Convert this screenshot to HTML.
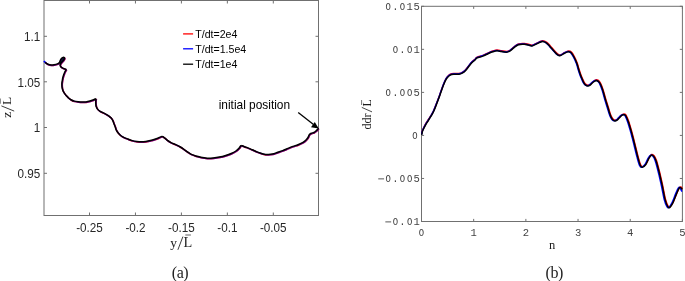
<!DOCTYPE html>
<html><head><meta charset="utf-8"><style>
html,body{margin:0;padding:0;background:#fff;width:685px;height:281px;overflow:hidden;}
svg{display:block;will-change:transform;}
</style></head><body>
<svg width="685" height="281" viewBox="0 0 685 281">
<rect x="44.0" y="0.5" width="274.50" height="215.00" fill="none" stroke="#707070" stroke-width="1"/>
<line x1="89.50" y1="215.5" x2="89.50" y2="212.5" stroke="#707070" stroke-width="1"/>
<line x1="89.50" y1="0.5" x2="89.50" y2="3.5" stroke="#707070" stroke-width="1"/>
<line x1="135.45" y1="215.5" x2="135.45" y2="212.5" stroke="#707070" stroke-width="1"/>
<line x1="135.45" y1="0.5" x2="135.45" y2="3.5" stroke="#707070" stroke-width="1"/>
<line x1="181.40" y1="215.5" x2="181.40" y2="212.5" stroke="#707070" stroke-width="1"/>
<line x1="181.40" y1="0.5" x2="181.40" y2="3.5" stroke="#707070" stroke-width="1"/>
<line x1="227.35" y1="215.5" x2="227.35" y2="212.5" stroke="#707070" stroke-width="1"/>
<line x1="227.35" y1="0.5" x2="227.35" y2="3.5" stroke="#707070" stroke-width="1"/>
<line x1="273.30" y1="215.5" x2="273.30" y2="212.5" stroke="#707070" stroke-width="1"/>
<line x1="273.30" y1="0.5" x2="273.30" y2="3.5" stroke="#707070" stroke-width="1"/>
<line x1="44.0" y1="36.30" x2="47.0" y2="36.30" stroke="#707070" stroke-width="1"/>
<line x1="318.5" y1="36.30" x2="315.5" y2="36.30" stroke="#707070" stroke-width="1"/>
<line x1="44.0" y1="81.80" x2="47.0" y2="81.80" stroke="#707070" stroke-width="1"/>
<line x1="318.5" y1="81.80" x2="315.5" y2="81.80" stroke="#707070" stroke-width="1"/>
<line x1="44.0" y1="127.50" x2="47.0" y2="127.50" stroke="#707070" stroke-width="1"/>
<line x1="318.5" y1="127.50" x2="315.5" y2="127.50" stroke="#707070" stroke-width="1"/>
<line x1="44.0" y1="173.30" x2="47.0" y2="173.30" stroke="#707070" stroke-width="1"/>
<line x1="318.5" y1="173.30" x2="315.5" y2="173.30" stroke="#707070" stroke-width="1"/>
<rect x="421.5" y="6.3" width="260.90" height="215.20" fill="none" stroke="#707070" stroke-width="1"/>
<line x1="421.50" y1="221.5" x2="421.50" y2="218.9" stroke="#707070" stroke-width="1"/>
<line x1="421.50" y1="6.3" x2="421.50" y2="8.9" stroke="#707070" stroke-width="1"/>
<line x1="473.68" y1="221.5" x2="473.68" y2="218.9" stroke="#707070" stroke-width="1"/>
<line x1="473.68" y1="6.3" x2="473.68" y2="8.9" stroke="#707070" stroke-width="1"/>
<line x1="525.86" y1="221.5" x2="525.86" y2="218.9" stroke="#707070" stroke-width="1"/>
<line x1="525.86" y1="6.3" x2="525.86" y2="8.9" stroke="#707070" stroke-width="1"/>
<line x1="578.04" y1="221.5" x2="578.04" y2="218.9" stroke="#707070" stroke-width="1"/>
<line x1="578.04" y1="6.3" x2="578.04" y2="8.9" stroke="#707070" stroke-width="1"/>
<line x1="630.22" y1="221.5" x2="630.22" y2="218.9" stroke="#707070" stroke-width="1"/>
<line x1="630.22" y1="6.3" x2="630.22" y2="8.9" stroke="#707070" stroke-width="1"/>
<line x1="682.40" y1="221.5" x2="682.40" y2="218.9" stroke="#707070" stroke-width="1"/>
<line x1="682.40" y1="6.3" x2="682.40" y2="8.9" stroke="#707070" stroke-width="1"/>
<line x1="421.5" y1="6.30" x2="424.1" y2="6.30" stroke="#707070" stroke-width="1"/>
<line x1="682.4" y1="6.30" x2="679.8" y2="6.30" stroke="#707070" stroke-width="1"/>
<line x1="421.5" y1="49.34" x2="424.1" y2="49.34" stroke="#707070" stroke-width="1"/>
<line x1="682.4" y1="49.34" x2="679.8" y2="49.34" stroke="#707070" stroke-width="1"/>
<line x1="421.5" y1="92.38" x2="424.1" y2="92.38" stroke="#707070" stroke-width="1"/>
<line x1="682.4" y1="92.38" x2="679.8" y2="92.38" stroke="#707070" stroke-width="1"/>
<line x1="421.5" y1="135.42" x2="424.1" y2="135.42" stroke="#707070" stroke-width="1"/>
<line x1="682.4" y1="135.42" x2="679.8" y2="135.42" stroke="#707070" stroke-width="1"/>
<line x1="421.5" y1="178.46" x2="424.1" y2="178.46" stroke="#707070" stroke-width="1"/>
<line x1="682.4" y1="178.46" x2="679.8" y2="178.46" stroke="#707070" stroke-width="1"/>
<line x1="421.5" y1="221.50" x2="424.1" y2="221.50" stroke="#707070" stroke-width="1"/>
<line x1="682.4" y1="221.50" x2="679.8" y2="221.50" stroke="#707070" stroke-width="1"/>
<path d="M45.45 62.90 C45.70 63.07 46.45 63.58 46.95 63.90 C47.45 64.22 47.70 64.53 48.45 64.80 C49.20 65.07 50.45 65.42 51.45 65.50 C52.45 65.58 53.38 65.48 54.45 65.30 C55.52 65.12 56.95 64.78 57.85 64.40 C58.75 64.02 59.37 63.58 59.85 63.00 C60.33 62.42 60.42 61.57 60.75 60.90 C61.08 60.23 61.38 59.50 61.85 59.00 C62.32 58.50 63.08 58.05 63.55 57.90 C64.02 57.75 64.43 57.88 64.65 58.10 C64.87 58.32 64.98 58.75 64.85 59.20 C64.72 59.65 64.25 60.27 63.85 60.80 C63.45 61.33 62.92 61.85 62.45 62.40 C61.98 62.95 61.37 63.55 61.05 64.10 C60.73 64.65 60.52 65.17 60.55 65.70 C60.58 66.23 60.80 66.82 61.25 67.30 C61.70 67.78 62.55 68.25 63.25 68.60 C63.95 68.95 64.87 69.18 65.45 69.40 C66.03 69.62 66.53 69.82 66.75 69.90 M66.75 69.90 C66.50 70.33 65.68 71.60 65.25 72.50 C64.82 73.40 64.48 74.35 64.15 75.30 C63.82 76.25 63.48 77.25 63.25 78.20 C63.02 79.15 62.90 80.05 62.75 81.00 C62.60 81.95 62.40 82.85 62.35 83.90 C62.30 84.95 62.33 86.25 62.45 87.30 C62.57 88.35 62.77 89.30 63.05 90.20 C63.33 91.10 63.72 91.92 64.15 92.70 C64.58 93.48 65.17 94.28 65.65 94.90 C66.13 95.52 66.48 95.80 67.05 96.40 C67.62 97.00 68.25 97.82 69.05 98.50 C69.85 99.18 70.92 99.98 71.85 100.50 C72.78 101.02 73.52 101.30 74.65 101.60 C75.78 101.90 77.35 102.13 78.65 102.30 C79.95 102.47 81.15 102.58 82.45 102.60 C83.75 102.62 85.12 102.58 86.45 102.40 C87.78 102.22 89.28 101.82 90.45 101.50 C91.62 101.18 92.58 100.83 93.45 100.50 C94.32 100.17 95.15 99.72 95.65 99.50 C96.15 99.28 96.32 99.25 96.45 99.20 M96.45 99.20 C96.40 99.67 96.18 101.12 96.15 102.00 C96.12 102.88 96.17 103.65 96.25 104.50 C96.33 105.35 96.37 106.25 96.65 107.10 C96.93 107.95 97.35 108.85 97.95 109.60 C98.55 110.35 99.33 111.00 100.25 111.60 C101.17 112.20 102.38 112.67 103.45 113.20 C104.52 113.73 105.70 114.27 106.65 114.80 C107.60 115.33 108.35 115.82 109.15 116.40 C109.95 116.98 110.78 117.55 111.45 118.30 C112.12 119.05 112.67 119.95 113.15 120.90 C113.63 121.85 113.95 122.97 114.35 124.00 C114.75 125.03 115.17 126.05 115.55 127.10 C115.93 128.15 116.13 129.25 116.65 130.30 C117.17 131.35 117.80 132.37 118.65 133.40 C119.50 134.43 120.73 135.72 121.75 136.50 C122.77 137.28 123.65 137.60 124.75 138.10 C125.85 138.60 127.02 139.00 128.35 139.50 C129.68 140.00 131.27 140.70 132.75 141.10 C134.23 141.50 135.75 141.72 137.25 141.90 C138.75 142.08 140.25 142.20 141.75 142.20 C143.25 142.20 144.75 142.08 146.25 141.90 C147.75 141.72 149.25 141.45 150.75 141.10 C152.25 140.75 153.85 140.27 155.25 139.80 C156.65 139.33 157.97 138.78 159.15 138.30 C160.33 137.82 161.72 137.15 162.35 136.90 C162.98 136.65 162.85 136.82 162.95 136.80 M162.95 136.80 C163.28 137.05 164.18 137.67 164.95 138.30 C165.72 138.93 166.47 139.80 167.55 140.60 C168.63 141.40 170.02 142.35 171.45 143.10 C172.88 143.85 174.58 144.37 176.15 145.10 C177.72 145.83 179.42 146.65 180.85 147.50 C182.28 148.35 183.57 149.37 184.75 150.20 C185.93 151.03 186.77 151.72 187.95 152.50 C189.13 153.28 190.42 154.23 191.85 154.90 C193.28 155.57 195.00 156.02 196.55 156.50 C198.10 156.98 199.33 157.43 201.15 157.80 C202.97 158.17 205.37 158.58 207.45 158.70 C209.53 158.82 211.57 158.68 213.65 158.50 C215.73 158.32 217.87 158.02 219.95 157.60 C222.03 157.18 224.20 156.60 226.15 156.00 C228.10 155.40 229.95 154.75 231.65 154.00 C233.35 153.25 235.05 152.38 236.35 151.50 C237.65 150.62 238.67 149.53 239.45 148.70 C240.23 147.87 240.65 146.95 241.05 146.50 C241.45 146.05 241.72 146.08 241.85 146.00 M241.85 146.00 C242.37 146.20 244.07 146.88 244.95 147.20 C245.83 147.52 245.87 147.38 247.15 147.90 C248.43 148.42 250.83 149.52 252.65 150.30 C254.47 151.08 256.23 151.92 258.05 152.60 C259.87 153.28 261.85 154.00 263.55 154.40 C265.25 154.80 266.68 154.97 268.25 155.00 C269.82 155.03 271.38 154.93 272.95 154.60 C274.52 154.27 275.95 153.58 277.65 153.00 C279.35 152.42 281.35 151.78 283.15 151.10 C284.95 150.42 286.73 149.60 288.45 148.90 C290.17 148.20 291.78 147.52 293.45 146.90 C295.12 146.28 296.78 145.87 298.45 145.20 C300.12 144.53 302.12 143.68 303.45 142.90 C304.78 142.12 305.62 141.32 306.45 140.50 C307.28 139.68 307.88 138.92 308.45 138.00 C309.02 137.08 309.28 135.72 309.85 135.00 C310.42 134.28 311.10 134.03 311.85 133.70 C312.60 133.37 313.60 133.37 314.35 133.00 C315.10 132.63 315.68 132.08 316.35 131.50 C317.02 130.92 317.93 129.97 318.35 129.50 C318.77 129.03 318.77 128.83 318.85 128.70" fill="none" stroke="#ff0000" stroke-width="1.5" stroke-linejoin="round" stroke-linecap="butt"/>
<path d="M44.10 61.65 C44.57 62.02 46.18 63.33 46.90 63.85 C47.62 64.37 47.65 64.48 48.40 64.75 C49.15 65.02 50.40 65.37 51.40 65.45 C52.40 65.53 53.33 65.43 54.40 65.25 C55.47 65.07 56.90 64.73 57.80 64.35 C58.70 63.97 59.32 63.53 59.80 62.95 C60.28 62.37 60.37 61.52 60.70 60.85 C61.03 60.18 61.33 59.45 61.80 58.95 C62.27 58.45 63.03 58.00 63.50 57.85 C63.97 57.70 64.38 57.83 64.60 58.05 C64.82 58.27 64.93 58.70 64.80 59.15 C64.67 59.60 64.20 60.22 63.80 60.75 C63.40 61.28 62.87 61.80 62.40 62.35 C61.93 62.90 61.32 63.50 61.00 64.05 C60.68 64.60 60.47 65.12 60.50 65.65 C60.53 66.18 60.75 66.77 61.20 67.25 C61.65 67.73 62.50 68.20 63.20 68.55 C63.90 68.90 64.82 69.13 65.40 69.35 C65.98 69.57 66.48 69.77 66.70 69.85 M66.70 69.85 C66.45 70.28 65.63 71.55 65.20 72.45 C64.77 73.35 64.43 74.30 64.10 75.25 C63.77 76.20 63.43 77.20 63.20 78.15 C62.97 79.10 62.85 80.00 62.70 80.95 C62.55 81.90 62.35 82.80 62.30 83.85 C62.25 84.90 62.28 86.20 62.40 87.25 C62.52 88.30 62.72 89.25 63.00 90.15 C63.28 91.05 63.67 91.87 64.10 92.65 C64.53 93.43 65.12 94.23 65.60 94.85 C66.08 95.47 66.43 95.75 67.00 96.35 C67.57 96.95 68.20 97.77 69.00 98.45 C69.80 99.13 70.87 99.93 71.80 100.45 C72.73 100.97 73.47 101.25 74.60 101.55 C75.73 101.85 77.30 102.08 78.60 102.25 C79.90 102.42 81.10 102.53 82.40 102.55 C83.70 102.57 85.07 102.53 86.40 102.35 C87.73 102.17 89.23 101.77 90.40 101.45 C91.57 101.13 92.53 100.78 93.40 100.45 C94.27 100.12 95.10 99.67 95.60 99.45 C96.10 99.23 96.27 99.20 96.40 99.15 M96.40 99.15 C96.35 99.62 96.13 101.07 96.10 101.95 C96.07 102.83 96.12 103.60 96.20 104.45 C96.28 105.30 96.32 106.20 96.60 107.05 C96.88 107.90 97.30 108.80 97.90 109.55 C98.50 110.30 99.28 110.95 100.20 111.55 C101.12 112.15 102.33 112.62 103.40 113.15 C104.47 113.68 105.65 114.22 106.60 114.75 C107.55 115.28 108.30 115.77 109.10 116.35 C109.90 116.93 110.73 117.50 111.40 118.25 C112.07 119.00 112.62 119.90 113.10 120.85 C113.58 121.80 113.90 122.92 114.30 123.95 C114.70 124.98 115.12 126.00 115.50 127.05 C115.88 128.10 116.08 129.20 116.60 130.25 C117.12 131.30 117.75 132.32 118.60 133.35 C119.45 134.38 120.68 135.67 121.70 136.45 C122.72 137.23 123.60 137.55 124.70 138.05 C125.80 138.55 126.97 138.95 128.30 139.45 C129.63 139.95 131.22 140.65 132.70 141.05 C134.18 141.45 135.70 141.67 137.20 141.85 C138.70 142.03 140.20 142.15 141.70 142.15 C143.20 142.15 144.70 142.03 146.20 141.85 C147.70 141.67 149.20 141.40 150.70 141.05 C152.20 140.70 153.80 140.22 155.20 139.75 C156.60 139.28 157.92 138.73 159.10 138.25 C160.28 137.77 161.67 137.10 162.30 136.85 C162.93 136.60 162.80 136.77 162.90 136.75 M162.90 136.75 C163.23 137.00 164.13 137.62 164.90 138.25 C165.67 138.88 166.42 139.75 167.50 140.55 C168.58 141.35 169.97 142.30 171.40 143.05 C172.83 143.80 174.53 144.32 176.10 145.05 C177.67 145.78 179.37 146.60 180.80 147.45 C182.23 148.30 183.52 149.32 184.70 150.15 C185.88 150.98 186.72 151.67 187.90 152.45 C189.08 153.23 190.37 154.18 191.80 154.85 C193.23 155.52 194.95 155.97 196.50 156.45 C198.05 156.93 199.28 157.38 201.10 157.75 C202.92 158.12 205.32 158.53 207.40 158.65 C209.48 158.77 211.52 158.63 213.60 158.45 C215.68 158.27 217.82 157.97 219.90 157.55 C221.98 157.13 224.15 156.55 226.10 155.95 C228.05 155.35 229.90 154.70 231.60 153.95 C233.30 153.20 235.00 152.33 236.30 151.45 C237.60 150.57 238.62 149.48 239.40 148.65 C240.18 147.82 240.60 146.90 241.00 146.45 C241.40 146.00 241.67 146.03 241.80 145.95 M241.80 145.95 C242.32 146.15 244.02 146.83 244.90 147.15 C245.78 147.47 245.82 147.33 247.10 147.85 C248.38 148.37 250.78 149.47 252.60 150.25 C254.42 151.03 256.18 151.87 258.00 152.55 C259.82 153.23 261.80 153.95 263.50 154.35 C265.20 154.75 266.63 154.92 268.20 154.95 C269.77 154.98 271.33 154.88 272.90 154.55 C274.47 154.22 275.90 153.53 277.60 152.95 C279.30 152.37 281.30 151.73 283.10 151.05 C284.90 150.37 286.68 149.55 288.40 148.85 C290.12 148.15 291.73 147.47 293.40 146.85 C295.07 146.23 296.73 145.82 298.40 145.15 C300.07 144.48 302.07 143.63 303.40 142.85 C304.73 142.07 305.57 141.27 306.40 140.45 C307.23 139.63 307.83 138.87 308.40 137.95 C308.97 137.03 309.23 135.67 309.80 134.95 C310.37 134.23 311.05 133.98 311.80 133.65 C312.55 133.32 313.55 133.32 314.30 132.95 C315.05 132.58 315.63 132.03 316.30 131.45 C316.97 130.87 317.88 129.92 318.30 129.45 C318.72 128.98 318.72 128.78 318.80 128.65" fill="none" stroke="#0000ff" stroke-opacity="0.55" stroke-width="1.5" stroke-linejoin="round" stroke-linecap="butt"/>
<path d="M43.8 61.0 Q44.8 61.9 46.2 62.9" fill="none" stroke="#0000ff" stroke-width="1.6"/>
<path d="M59.6 62.6 L60.3 60.4 L61.4 58.5 L63.1 57.4 L64.2 57.6 L64.4 58.7 L63.4 60.3 L62 61.9 L60.6 63.6 Z" fill="#14104a"/>
<path d="M45.00 62.40 C45.25 62.57 46.00 63.08 46.50 63.40 C47.00 63.72 47.25 64.03 48.00 64.30 C48.75 64.57 50.00 64.92 51.00 65.00 C52.00 65.08 52.93 64.98 54.00 64.80 C55.07 64.62 56.50 64.28 57.40 63.90 C58.30 63.52 58.92 63.08 59.40 62.50 C59.88 61.92 59.97 61.07 60.30 60.40 C60.63 59.73 60.93 59.00 61.40 58.50 C61.87 58.00 62.63 57.55 63.10 57.40 C63.57 57.25 63.98 57.38 64.20 57.60 C64.42 57.82 64.53 58.25 64.40 58.70 C64.27 59.15 63.80 59.77 63.40 60.30 C63.00 60.83 62.47 61.35 62.00 61.90 C61.53 62.45 60.92 63.05 60.60 63.60 C60.28 64.15 60.07 64.67 60.10 65.20 C60.13 65.73 60.35 66.32 60.80 66.80 C61.25 67.28 62.10 67.75 62.80 68.10 C63.50 68.45 64.42 68.68 65.00 68.90 C65.58 69.12 66.08 69.32 66.30 69.40 M66.30 69.40 C66.05 69.83 65.23 71.10 64.80 72.00 C64.37 72.90 64.03 73.85 63.70 74.80 C63.37 75.75 63.03 76.75 62.80 77.70 C62.57 78.65 62.45 79.55 62.30 80.50 C62.15 81.45 61.95 82.35 61.90 83.40 C61.85 84.45 61.88 85.75 62.00 86.80 C62.12 87.85 62.32 88.80 62.60 89.70 C62.88 90.60 63.27 91.42 63.70 92.20 C64.13 92.98 64.72 93.78 65.20 94.40 C65.68 95.02 66.03 95.30 66.60 95.90 C67.17 96.50 67.80 97.32 68.60 98.00 C69.40 98.68 70.47 99.48 71.40 100.00 C72.33 100.52 73.07 100.80 74.20 101.10 C75.33 101.40 76.90 101.63 78.20 101.80 C79.50 101.97 80.70 102.08 82.00 102.10 C83.30 102.12 84.67 102.08 86.00 101.90 C87.33 101.72 88.83 101.32 90.00 101.00 C91.17 100.68 92.13 100.33 93.00 100.00 C93.87 99.67 94.70 99.22 95.20 99.00 C95.70 98.78 95.87 98.75 96.00 98.70 M96.00 98.70 C95.95 99.17 95.73 100.62 95.70 101.50 C95.67 102.38 95.72 103.15 95.80 104.00 C95.88 104.85 95.92 105.75 96.20 106.60 C96.48 107.45 96.90 108.35 97.50 109.10 C98.10 109.85 98.88 110.50 99.80 111.10 C100.72 111.70 101.93 112.17 103.00 112.70 C104.07 113.23 105.25 113.77 106.20 114.30 C107.15 114.83 107.90 115.32 108.70 115.90 C109.50 116.48 110.33 117.05 111.00 117.80 C111.67 118.55 112.22 119.45 112.70 120.40 C113.18 121.35 113.50 122.47 113.90 123.50 C114.30 124.53 114.72 125.55 115.10 126.60 C115.48 127.65 115.68 128.75 116.20 129.80 C116.72 130.85 117.35 131.87 118.20 132.90 C119.05 133.93 120.28 135.22 121.30 136.00 C122.32 136.78 123.20 137.10 124.30 137.60 C125.40 138.10 126.57 138.50 127.90 139.00 C129.23 139.50 130.82 140.20 132.30 140.60 C133.78 141.00 135.30 141.22 136.80 141.40 C138.30 141.58 139.80 141.70 141.30 141.70 C142.80 141.70 144.30 141.58 145.80 141.40 C147.30 141.22 148.80 140.95 150.30 140.60 C151.80 140.25 153.40 139.77 154.80 139.30 C156.20 138.83 157.52 138.28 158.70 137.80 C159.88 137.32 161.27 136.65 161.90 136.40 C162.53 136.15 162.40 136.32 162.50 136.30 M162.50 136.30 C162.83 136.55 163.73 137.17 164.50 137.80 C165.27 138.43 166.02 139.30 167.10 140.10 C168.18 140.90 169.57 141.85 171.00 142.60 C172.43 143.35 174.13 143.87 175.70 144.60 C177.27 145.33 178.97 146.15 180.40 147.00 C181.83 147.85 183.12 148.87 184.30 149.70 C185.48 150.53 186.32 151.22 187.50 152.00 C188.68 152.78 189.97 153.73 191.40 154.40 C192.83 155.07 194.55 155.52 196.10 156.00 C197.65 156.48 198.88 156.93 200.70 157.30 C202.52 157.67 204.92 158.08 207.00 158.20 C209.08 158.32 211.12 158.18 213.20 158.00 C215.28 157.82 217.42 157.52 219.50 157.10 C221.58 156.68 223.75 156.10 225.70 155.50 C227.65 154.90 229.50 154.25 231.20 153.50 C232.90 152.75 234.60 151.88 235.90 151.00 C237.20 150.12 238.22 149.03 239.00 148.20 C239.78 147.37 240.20 146.45 240.60 146.00 C241.00 145.55 241.27 145.58 241.40 145.50 M241.40 145.50 C241.92 145.70 243.62 146.38 244.50 146.70 C245.38 147.02 245.42 146.88 246.70 147.40 C247.98 147.92 250.38 149.02 252.20 149.80 C254.02 150.58 255.78 151.42 257.60 152.10 C259.42 152.78 261.40 153.50 263.10 153.90 C264.80 154.30 266.23 154.47 267.80 154.50 C269.37 154.53 270.93 154.43 272.50 154.10 C274.07 153.77 275.50 153.08 277.20 152.50 C278.90 151.92 280.90 151.28 282.70 150.60 C284.50 149.92 286.28 149.10 288.00 148.40 C289.72 147.70 291.33 147.02 293.00 146.40 C294.67 145.78 296.33 145.37 298.00 144.70 C299.67 144.03 301.67 143.18 303.00 142.40 C304.33 141.62 305.17 140.82 306.00 140.00 C306.83 139.18 307.43 138.42 308.00 137.50 C308.57 136.58 308.83 135.22 309.40 134.50 C309.97 133.78 310.65 133.53 311.40 133.20 C312.15 132.87 313.15 132.87 313.90 132.50 C314.65 132.13 315.23 131.58 315.90 131.00 C316.57 130.42 317.48 129.47 317.90 129.00 C318.32 128.53 318.32 128.33 318.40 128.20" fill="none" stroke="#000" stroke-width="1.5" stroke-linejoin="round" stroke-linecap="butt"/>
<path d="M421.70 133.95 C421.82 133.42 422.08 131.75 422.40 130.75 C422.72 129.75 423.02 129.17 423.60 127.95 C424.19 126.74 425.12 124.82 425.91 123.45 C426.69 122.09 427.46 121.10 428.31 119.76 C429.16 118.41 430.13 116.86 431.01 115.36 C431.90 113.85 432.65 112.82 433.61 110.71 C434.58 108.60 435.82 105.29 436.82 102.71 C437.82 100.13 438.72 97.71 439.62 95.21 C440.52 92.71 441.32 90.13 442.22 87.72 C443.12 85.30 444.23 82.48 445.03 80.72 C445.83 78.95 446.16 78.20 447.03 77.12 C447.90 76.04 449.03 74.84 450.23 74.22 C451.43 73.61 452.77 73.56 454.24 73.43 C455.71 73.29 457.71 73.61 459.04 73.43 C460.38 73.25 461.18 72.91 462.25 72.33 C463.31 71.75 464.38 71.00 465.45 69.93 C466.52 68.87 467.59 67.27 468.65 65.94 C469.72 64.60 470.79 63.05 471.86 61.94 C472.93 60.82 474.18 60.04 475.06 59.24 C475.95 58.44 475.86 57.79 477.16 57.14 C478.47 56.49 480.97 56.09 482.87 55.35 C484.77 54.61 486.93 53.43 488.58 52.70 C490.23 51.98 491.36 51.45 492.78 51.00 C494.20 50.56 495.65 50.06 497.09 50.01 C498.52 49.96 499.84 50.46 501.39 50.71 C502.94 50.96 504.98 51.58 506.40 51.52 C507.82 51.45 508.60 51.10 509.90 50.32 C511.20 49.54 512.79 47.89 514.21 46.82 C515.62 45.76 516.71 44.47 518.41 43.92 C520.11 43.38 522.72 43.46 524.42 43.53 C526.12 43.60 527.32 44.06 528.62 44.33 C529.92 44.60 531.04 45.25 532.23 45.13 C533.41 45.02 534.55 44.19 535.73 43.64 C536.92 43.09 538.15 42.34 539.34 41.84 C540.52 41.34 541.65 40.61 542.84 40.64 C544.02 40.68 545.24 41.21 546.44 42.05 C547.64 42.88 548.75 44.23 550.05 45.65 C551.35 47.07 552.95 49.13 554.25 50.55 C555.55 51.97 556.79 53.44 557.86 54.15 C558.92 54.87 559.59 55.09 560.66 54.86 C561.73 54.62 562.96 53.39 564.26 52.76 C565.57 52.13 567.28 51.18 568.47 51.06 C569.65 50.95 570.42 51.20 571.37 52.06 C572.32 52.93 573.22 54.50 574.18 56.27 C575.13 58.03 576.31 60.64 577.08 62.67 C577.85 64.70 578.21 66.64 578.78 68.47 C579.35 70.30 579.90 72.05 580.48 73.67 C581.07 75.29 581.68 76.76 582.28 78.17 C582.89 79.59 583.49 81.14 584.09 82.17 C584.69 83.21 585.22 83.86 585.89 84.38 C586.56 84.89 587.36 85.28 588.09 85.28 C588.83 85.28 589.48 84.96 590.29 84.38 C591.11 83.80 592.10 82.51 593.00 81.78 C593.90 81.05 594.97 80.28 595.70 79.98 C596.43 79.68 596.82 79.77 597.40 79.98 C597.99 80.20 598.64 80.65 599.20 81.29 C599.77 81.92 600.19 82.47 600.81 83.79 C601.42 85.10 602.29 87.36 602.91 89.19 C603.53 91.02 603.96 92.87 604.51 94.79 C605.06 96.71 605.59 98.64 606.21 100.69 C606.83 102.74 607.61 105.13 608.21 107.09 C608.82 109.06 609.28 110.89 609.82 112.49 C610.35 114.09 610.88 115.60 611.42 116.70 C611.95 117.80 612.39 118.51 613.02 119.10 C613.65 119.68 614.51 120.15 615.22 120.20 C615.94 120.25 616.62 119.88 617.32 119.40 C618.03 118.92 618.71 118.02 619.43 117.30 C620.14 116.59 621.00 115.64 621.63 115.10 C622.26 114.57 622.70 114.27 623.23 114.10 C623.77 113.94 624.35 113.91 624.83 114.11 C625.32 114.31 625.50 114.11 626.14 115.31 C626.77 116.51 627.77 118.82 628.64 121.31 C629.51 123.79 630.57 127.54 631.34 130.21 C632.11 132.88 632.53 134.53 633.24 137.31 C633.96 140.10 634.85 143.71 635.65 146.91 C636.45 150.11 637.25 153.58 638.05 156.52 C638.85 159.45 639.68 162.83 640.45 164.52 C641.22 166.20 641.72 166.74 642.65 166.62 C643.59 166.50 644.96 165.35 646.06 163.82 C647.16 162.29 648.33 158.97 649.26 157.42 C650.20 155.88 650.86 154.81 651.66 154.53 C652.47 154.24 653.27 154.73 654.07 155.73 C654.87 156.73 655.67 158.26 656.47 160.53 C657.27 162.80 658.27 167.06 658.87 169.33 C659.47 171.60 659.44 171.42 660.07 174.13 C660.71 176.85 661.79 181.50 662.68 185.63 C663.56 189.77 664.48 195.54 665.38 198.94 C666.28 202.34 667.28 204.75 668.08 206.04 C668.88 207.32 669.30 207.37 670.19 206.64 C671.07 205.91 672.27 203.93 673.39 201.64 C674.51 199.36 675.91 195.26 676.89 192.95 C677.88 190.63 678.63 188.75 679.30 187.75 C679.96 186.75 680.36 186.78 680.90 186.95 C681.43 187.12 682.23 188.45 682.50 188.75" fill="none" stroke="#ff0000" stroke-width="1.5" stroke-linejoin="round"/>
<path d="M421.60 134.35 C421.72 133.82 421.98 132.15 422.30 131.15 C422.61 130.15 422.91 129.57 423.49 128.35 C424.08 127.14 425.01 125.22 425.79 123.86 C426.57 122.49 427.33 121.51 428.18 120.16 C429.03 118.81 429.99 117.27 430.87 115.77 C431.75 114.26 432.50 113.23 433.46 111.12 C434.43 109.01 435.66 105.71 436.65 103.13 C437.65 100.54 438.55 98.13 439.44 95.63 C440.34 93.13 441.14 90.55 442.04 88.14 C442.93 85.72 444.03 82.91 444.83 81.14 C445.63 79.38 445.96 78.63 446.82 77.54 C447.69 76.46 448.82 75.26 450.01 74.65 C451.21 74.03 452.54 73.99 454.00 73.86 C455.46 73.73 457.46 74.05 458.79 73.86 C460.11 73.68 460.91 73.35 461.98 72.77 C463.04 72.19 464.10 71.44 465.17 70.38 C466.23 69.31 467.29 67.71 468.36 66.38 C469.42 65.05 470.48 63.50 471.55 62.39 C472.61 61.27 473.86 60.49 474.74 59.69 C475.62 58.89 475.53 58.24 476.83 57.60 C478.13 56.95 480.62 56.54 482.51 55.81 C484.41 55.07 486.55 53.89 488.19 53.17 C489.84 52.44 490.97 51.92 492.38 51.47 C493.79 51.03 495.24 50.53 496.67 50.48 C498.10 50.43 499.41 50.93 500.96 51.19 C502.50 51.44 504.53 52.06 505.94 52.00 C507.35 51.93 508.13 51.58 509.43 50.80 C510.73 50.02 512.30 48.37 513.72 47.31 C515.13 46.25 516.21 44.96 517.90 44.42 C519.60 43.87 522.19 43.96 523.88 44.03 C525.58 44.10 526.78 44.57 528.07 44.83 C529.37 45.10 530.48 45.76 531.66 45.64 C532.84 45.53 533.97 44.69 535.15 44.15 C536.33 43.60 537.56 42.85 538.74 42.35 C539.92 41.86 541.05 41.12 542.23 41.16 C543.41 41.19 544.62 41.73 545.82 42.57 C547.01 43.40 548.11 44.75 549.41 46.17 C550.70 47.59 552.30 49.66 553.59 51.08 C554.89 52.50 556.12 53.97 557.18 54.68 C558.25 55.40 558.91 55.62 559.97 55.39 C561.04 55.16 562.27 53.93 563.56 53.30 C564.86 52.66 566.57 51.72 567.75 51.60 C568.93 51.49 569.69 51.74 570.64 52.61 C571.59 53.48 572.49 55.04 573.43 56.81 C574.38 58.58 575.56 61.18 576.32 63.22 C577.09 65.25 577.45 67.19 578.02 69.02 C578.58 70.86 579.13 72.61 579.71 74.22 C580.29 75.84 580.91 77.31 581.51 78.73 C582.11 80.14 582.70 81.70 583.30 82.73 C583.90 83.76 584.43 84.42 585.10 84.93 C585.76 85.45 586.56 85.84 587.29 85.84 C588.02 85.84 588.67 85.52 589.48 84.94 C590.30 84.36 591.28 83.08 592.17 82.35 C593.07 81.61 594.14 80.85 594.87 80.55 C595.60 80.25 595.98 80.34 596.56 80.55 C597.14 80.77 597.79 81.22 598.36 81.86 C598.92 82.49 599.34 83.04 599.95 84.36 C600.57 85.68 601.43 87.93 602.04 89.76 C602.66 91.60 603.09 93.45 603.64 95.37 C604.19 97.28 604.72 99.22 605.33 101.27 C605.95 103.32 606.73 105.70 607.33 107.67 C607.93 109.64 608.39 111.47 608.92 113.07 C609.45 114.68 609.99 116.18 610.52 117.28 C611.05 118.38 611.48 119.10 612.11 119.68 C612.74 120.26 613.59 120.73 614.31 120.78 C615.02 120.83 615.70 120.47 616.40 119.99 C617.10 119.51 617.78 118.61 618.49 117.89 C619.21 117.18 620.06 116.23 620.69 115.69 C621.32 115.16 621.75 114.86 622.28 114.70 C622.81 114.53 623.40 114.50 623.88 114.70 C624.36 114.90 624.54 114.70 625.17 115.90 C625.80 117.10 626.80 119.42 627.67 121.91 C628.53 124.39 629.59 128.14 630.36 130.81 C631.12 133.48 631.54 135.13 632.25 137.91 C632.97 140.70 633.85 144.32 634.64 147.52 C635.44 150.72 636.24 154.19 637.04 157.12 C637.83 160.06 638.67 163.44 639.43 165.13 C640.19 166.81 640.69 167.35 641.62 167.23 C642.55 167.12 643.92 165.97 645.01 164.44 C646.11 162.91 647.27 159.59 648.20 158.04 C649.13 156.49 649.80 155.43 650.60 155.15 C651.39 154.86 652.19 155.35 652.99 156.35 C653.79 157.35 654.58 158.89 655.38 161.15 C656.18 163.42 657.17 167.69 657.77 169.96 C658.37 172.23 658.34 172.04 658.97 174.76 C659.60 177.48 660.68 182.13 661.56 186.27 C662.44 190.40 663.36 196.17 664.25 199.57 C665.15 202.97 666.15 205.39 666.94 206.67 C667.74 207.96 668.16 208.01 669.04 207.28 C669.92 206.55 671.12 204.57 672.23 202.28 C673.34 200.00 674.74 195.90 675.72 193.59 C676.70 191.28 677.45 189.39 678.11 188.39 C678.78 187.40 679.07 187.06 679.71 187.60 C680.34 188.13 681.53 190.93 681.90 191.60" fill="none" stroke="#0000ff" stroke-width="1.5" stroke-linejoin="round"/>
<path d="M421.70 134.80 C421.82 134.27 422.08 132.60 422.40 131.60 C422.72 130.60 423.02 130.02 423.60 128.80 C424.18 127.58 425.12 125.67 425.90 124.30 C426.68 122.93 427.45 121.95 428.30 120.60 C429.15 119.25 430.12 117.71 431.00 116.20 C431.88 114.69 432.63 113.66 433.60 111.55 C434.57 109.44 435.80 106.13 436.80 103.55 C437.80 100.97 438.70 98.55 439.60 96.05 C440.50 93.55 441.30 90.97 442.20 88.55 C443.10 86.13 444.20 83.32 445.00 81.55 C445.80 79.78 446.13 79.03 447.00 77.95 C447.87 76.87 449.00 75.67 450.20 75.05 C451.40 74.43 452.73 74.38 454.20 74.25 C455.67 74.12 457.67 74.43 459.00 74.25 C460.33 74.07 461.13 73.73 462.20 73.15 C463.27 72.57 464.33 71.82 465.40 70.75 C466.47 69.68 467.53 68.08 468.60 66.75 C469.67 65.42 470.73 63.87 471.80 62.75 C472.87 61.63 474.12 60.85 475.00 60.05 C475.88 59.25 475.80 58.60 477.10 57.95 C478.40 57.30 480.90 56.89 482.80 56.15 C484.70 55.41 486.85 54.23 488.50 53.50 C490.15 52.77 491.28 52.25 492.70 51.80 C494.12 51.35 495.57 50.85 497.00 50.80 C498.43 50.75 499.75 51.25 501.30 51.50 C502.85 51.75 504.88 52.37 506.30 52.30 C507.72 52.23 508.50 51.88 509.80 51.10 C511.10 50.32 512.68 48.67 514.10 47.60 C515.52 46.53 516.60 45.25 518.30 44.70 C520.00 44.15 522.60 44.23 524.30 44.30 C526.00 44.37 527.20 44.83 528.50 45.10 C529.80 45.37 530.92 46.02 532.10 45.90 C533.28 45.78 534.42 44.95 535.60 44.40 C536.78 43.85 538.02 43.10 539.20 42.60 C540.38 42.10 541.52 41.37 542.70 41.40 C543.88 41.43 545.10 41.97 546.30 42.80 C547.50 43.63 548.60 44.98 549.90 46.40 C551.20 47.82 552.80 49.88 554.10 51.30 C555.40 52.72 556.63 54.18 557.70 54.90 C558.77 55.62 559.43 55.83 560.50 55.60 C561.57 55.37 562.80 54.13 564.10 53.50 C565.40 52.87 567.12 51.92 568.30 51.80 C569.48 51.68 570.25 51.93 571.20 52.80 C572.15 53.67 573.05 55.23 574.00 57.00 C574.95 58.77 576.13 61.37 576.90 63.40 C577.67 65.43 578.03 67.37 578.60 69.20 C579.17 71.03 579.72 72.78 580.30 74.40 C580.88 76.02 581.50 77.48 582.10 78.90 C582.70 80.32 583.30 81.87 583.90 82.90 C584.50 83.93 585.03 84.58 585.70 85.10 C586.37 85.62 587.17 86.00 587.90 86.00 C588.63 86.00 589.28 85.68 590.10 85.10 C590.92 84.52 591.90 83.23 592.80 82.50 C593.70 81.77 594.77 81.00 595.50 80.70 C596.23 80.40 596.62 80.48 597.20 80.70 C597.78 80.92 598.43 81.37 599.00 82.00 C599.57 82.63 599.98 83.18 600.60 84.50 C601.22 85.82 602.08 88.07 602.70 89.90 C603.32 91.73 603.75 93.58 604.30 95.50 C604.85 97.42 605.38 99.35 606.00 101.40 C606.62 103.45 607.40 105.83 608.00 107.80 C608.60 109.77 609.07 111.60 609.60 113.20 C610.13 114.80 610.67 116.30 611.20 117.40 C611.73 118.50 612.17 119.22 612.80 119.80 C613.43 120.38 614.28 120.85 615.00 120.90 C615.72 120.95 616.40 120.58 617.10 120.10 C617.80 119.62 618.48 118.72 619.20 118.00 C619.92 117.28 620.77 116.33 621.40 115.80 C622.03 115.27 622.47 114.97 623.00 114.80 C623.53 114.63 624.12 114.60 624.60 114.80 C625.08 115.00 625.27 114.80 625.90 116.00 C626.53 117.20 627.53 119.52 628.40 122.00 C629.27 124.48 630.33 128.23 631.10 130.90 C631.87 133.57 632.28 135.22 633.00 138.00 C633.72 140.78 634.60 144.40 635.40 147.60 C636.20 150.80 637.00 154.27 637.80 157.20 C638.60 160.13 639.43 163.52 640.20 165.20 C640.97 166.88 641.47 167.42 642.40 167.30 C643.33 167.18 644.70 166.03 645.80 164.50 C646.90 162.97 648.07 159.65 649.00 158.10 C649.93 156.55 650.60 155.48 651.40 155.20 C652.20 154.92 653.00 155.40 653.80 156.40 C654.60 157.40 655.40 158.93 656.20 161.20 C657.00 163.47 658.00 167.73 658.60 170.00 C659.20 172.27 659.17 172.08 659.80 174.80 C660.43 177.52 661.52 182.17 662.40 186.30 C663.28 190.43 664.20 196.20 665.10 199.60 C666.00 203.00 667.00 205.42 667.80 206.70 C668.60 207.98 669.02 208.03 669.90 207.30 C670.78 206.57 671.98 204.58 673.10 202.30 C674.22 200.02 675.62 195.92 676.60 193.60 C677.58 191.28 678.33 189.40 679.00 188.40 C679.67 187.40 680.07 187.43 680.60 187.60 C681.13 187.77 681.93 189.10 682.20 189.40" fill="none" stroke="#000" stroke-width="1.5" stroke-linejoin="round"/>
<text transform="translate(89.50,231.6) scale(1,1.12)" text-anchor="middle" font-family='"Liberation Sans", sans-serif' font-size="11.7" fill="#262626">-0.25</text>
<text transform="translate(135.45,231.6) scale(1,1.12)" text-anchor="middle" font-family='"Liberation Sans", sans-serif' font-size="11.7" fill="#262626">-0.2</text>
<text transform="translate(181.40,231.6) scale(1,1.12)" text-anchor="middle" font-family='"Liberation Sans", sans-serif' font-size="11.7" fill="#262626">-0.15</text>
<text transform="translate(227.35,231.6) scale(1,1.12)" text-anchor="middle" font-family='"Liberation Sans", sans-serif' font-size="11.7" fill="#262626">-0.1</text>
<text transform="translate(273.30,231.6) scale(1,1.12)" text-anchor="middle" font-family='"Liberation Sans", sans-serif' font-size="11.7" fill="#262626">-0.05</text>
<text transform="translate(40.2,41.20) scale(1,1.12)" text-anchor="end" font-family='"Liberation Sans", sans-serif' font-size="11.7" fill="#262626">1.1</text>
<text transform="translate(40.2,86.70) scale(1,1.12)" text-anchor="end" font-family='"Liberation Sans", sans-serif' font-size="11.7" fill="#262626">1.05</text>
<text transform="translate(40.2,132.40) scale(1,1.12)" text-anchor="end" font-family='"Liberation Sans", sans-serif' font-size="11.7" fill="#262626">1</text>
<text transform="translate(40.2,178.20) scale(1,1.12)" text-anchor="end" font-family='"Liberation Sans", sans-serif' font-size="11.7" fill="#262626">0.95</text>
<text transform="translate(421.50,236.00) scale(0.76,1)" text-anchor="middle" font-family='"Liberation Mono", monospace' font-size="11.75" fill="#444">O</text>
<text transform="translate(473.68,236.00) scale(0.9,1)" text-anchor="middle" font-family='"Liberation Mono", monospace' font-size="11.75" fill="#444">1</text>
<text transform="translate(525.86,236.00) scale(0.9,1)" text-anchor="middle" font-family='"Liberation Mono", monospace' font-size="11.75" fill="#444">2</text>
<text transform="translate(578.04,236.00) scale(0.9,1)" text-anchor="middle" font-family='"Liberation Mono", monospace' font-size="11.75" fill="#444">3</text>
<text transform="translate(630.22,236.00) scale(0.9,1)" text-anchor="middle" font-family='"Liberation Mono", monospace' font-size="11.75" fill="#444">4</text>
<text transform="translate(682.40,236.00) scale(0.9,1)" text-anchor="middle" font-family='"Liberation Mono", monospace' font-size="11.75" fill="#444">5</text>
<text transform="translate(388.25,10.20) scale(0.76,1)" text-anchor="middle" font-family='"Liberation Mono", monospace' font-size="11.75" fill="#444">O</text>
<text transform="translate(395.35,10.20) scale(0.9,1)" text-anchor="middle" font-family='"Liberation Mono", monospace' font-size="11.75" fill="#444">.</text>
<text transform="translate(402.45,10.20) scale(0.76,1)" text-anchor="middle" font-family='"Liberation Mono", monospace' font-size="11.75" fill="#444">O</text>
<text transform="translate(409.55,10.20) scale(0.9,1)" text-anchor="middle" font-family='"Liberation Mono", monospace' font-size="11.75" fill="#444">1</text>
<text transform="translate(416.65,10.20) scale(0.9,1)" text-anchor="middle" font-family='"Liberation Mono", monospace' font-size="11.75" fill="#444">5</text>
<text transform="translate(395.35,53.24) scale(0.76,1)" text-anchor="middle" font-family='"Liberation Mono", monospace' font-size="11.75" fill="#444">O</text>
<text transform="translate(402.45,53.24) scale(0.9,1)" text-anchor="middle" font-family='"Liberation Mono", monospace' font-size="11.75" fill="#444">.</text>
<text transform="translate(409.55,53.24) scale(0.76,1)" text-anchor="middle" font-family='"Liberation Mono", monospace' font-size="11.75" fill="#444">O</text>
<text transform="translate(416.65,53.24) scale(0.9,1)" text-anchor="middle" font-family='"Liberation Mono", monospace' font-size="11.75" fill="#444">1</text>
<text transform="translate(388.25,96.28) scale(0.76,1)" text-anchor="middle" font-family='"Liberation Mono", monospace' font-size="11.75" fill="#444">O</text>
<text transform="translate(395.35,96.28) scale(0.9,1)" text-anchor="middle" font-family='"Liberation Mono", monospace' font-size="11.75" fill="#444">.</text>
<text transform="translate(402.45,96.28) scale(0.76,1)" text-anchor="middle" font-family='"Liberation Mono", monospace' font-size="11.75" fill="#444">O</text>
<text transform="translate(409.55,96.28) scale(0.76,1)" text-anchor="middle" font-family='"Liberation Mono", monospace' font-size="11.75" fill="#444">O</text>
<text transform="translate(416.65,96.28) scale(0.9,1)" text-anchor="middle" font-family='"Liberation Mono", monospace' font-size="11.75" fill="#444">5</text>
<text transform="translate(414.85,139.32) scale(0.76,1)" text-anchor="middle" font-family='"Liberation Mono", monospace' font-size="11.75" fill="#444">O</text>
<line x1="378.25" y1="178.86" x2="384.05" y2="178.86" stroke="#444" stroke-width="0.9"/>
<text transform="translate(388.25,182.36) scale(0.76,1)" text-anchor="middle" font-family='"Liberation Mono", monospace' font-size="11.75" fill="#444">O</text>
<text transform="translate(395.35,182.36) scale(0.9,1)" text-anchor="middle" font-family='"Liberation Mono", monospace' font-size="11.75" fill="#444">.</text>
<text transform="translate(402.45,182.36) scale(0.76,1)" text-anchor="middle" font-family='"Liberation Mono", monospace' font-size="11.75" fill="#444">O</text>
<text transform="translate(409.55,182.36) scale(0.76,1)" text-anchor="middle" font-family='"Liberation Mono", monospace' font-size="11.75" fill="#444">O</text>
<text transform="translate(416.65,182.36) scale(0.9,1)" text-anchor="middle" font-family='"Liberation Mono", monospace' font-size="11.75" fill="#444">5</text>
<line x1="385.35" y1="221.90" x2="391.15" y2="221.90" stroke="#444" stroke-width="0.9"/>
<text transform="translate(395.35,225.40) scale(0.76,1)" text-anchor="middle" font-family='"Liberation Mono", monospace' font-size="11.75" fill="#444">O</text>
<text transform="translate(402.45,225.40) scale(0.9,1)" text-anchor="middle" font-family='"Liberation Mono", monospace' font-size="11.75" fill="#444">.</text>
<text transform="translate(409.55,225.40) scale(0.76,1)" text-anchor="middle" font-family='"Liberation Mono", monospace' font-size="11.75" fill="#444">O</text>
<text transform="translate(416.65,225.40) scale(0.9,1)" text-anchor="middle" font-family='"Liberation Mono", monospace' font-size="11.75" fill="#444">1</text>
<g transform="translate(170.3,246.6) rotate(0)"><text x="0" y="0" font-family='"Liberation Serif", serif' font-size="13.5" fill="#1a1a1a">y</text><line x1="7.6" y1="3.2" x2="12.6" y2="-10" stroke="#1a1a1a" stroke-width="0.85"/><text x="13.2" y="0" font-family='"Liberation Serif", serif' font-size="14.3" fill="#1a1a1a">L</text><line x1="15.0" y1="-11.6" x2="20.6" y2="-11.6" stroke="#1a1a1a" stroke-width="0.7"/></g>
<g transform="translate(11.4,117.7) rotate(-90)"><text x="0" y="0" font-family='"Liberation Serif", serif' font-size="13.5" fill="#1a1a1a">z</text><line x1="6.6" y1="2.8" x2="11.8" y2="-10" stroke="#1a1a1a" stroke-width="0.85"/><text x="12.6" y="0" font-family='"Liberation Serif", serif' font-size="13.5" fill="#1a1a1a">L</text><line x1="14.0" y1="-11.2" x2="19.2" y2="-11.2" stroke="#1a1a1a" stroke-width="0.7"/></g>
<text x="552" y="249.4" text-anchor="middle" font-family='"Liberation Serif", serif' font-size="12.5" fill="#1a1a1a">n</text>
<g transform="translate(371.2,129.6) rotate(-90)"><text x="0" y="0" font-family='"Liberation Serif", serif' font-size="12" fill="#1a1a1a">ddr</text><line x1="17.7" y1="0.8" x2="22.2" y2="-9.4" stroke="#1a1a1a" stroke-width="0.8"/><text x="23.2" y="0" font-family='"Liberation Serif", serif' font-size="12" fill="#1a1a1a">L</text><line x1="24.6" y1="-9.6" x2="29.6" y2="-9.6" stroke="#1a1a1a" stroke-width="0.6"/></g>
<line x1="183.1" y1="33.9" x2="193.1" y2="33.9" stroke="#ff0000" stroke-width="1.3"/>
<text x="195.3" y="37.60" font-family='"Liberation Sans", sans-serif' font-size="10.6" fill="#000">T/dt=2e4</text>
<line x1="183.1" y1="48.8" x2="193.1" y2="48.8" stroke="#0000ff" stroke-width="1.3"/>
<text x="195.3" y="52.50" font-family='"Liberation Sans", sans-serif' font-size="10.6" fill="#000">T/dt=1.5e4</text>
<line x1="183.1" y1="64.2" x2="193.1" y2="64.2" stroke="#000" stroke-width="1.3"/>
<text x="195.3" y="67.90" font-family='"Liberation Sans", sans-serif' font-size="10.6" fill="#000">T/dt=1e4</text>
<text x="218.7" y="108.9" font-family='"Liberation Sans", sans-serif' font-size="11.9" fill="#000">initial position</text>
<line x1="298.2" y1="112.5" x2="313.5" y2="124.5" stroke="#000" stroke-width="1.3"/>
<polygon points="318.7,128.5 314.8,121.9 311,127.2" fill="#000"/>
<text x="180" y="277.7" text-anchor="middle" font-family='"Liberation Serif", serif' font-size="16" letter-spacing="-0.4" fill="#222">(a)</text>
<text x="554.3" y="277.7" text-anchor="middle" font-family='"Liberation Serif", serif' font-size="16" letter-spacing="-0.4" fill="#222">(b)</text>
</svg>
</body></html>
